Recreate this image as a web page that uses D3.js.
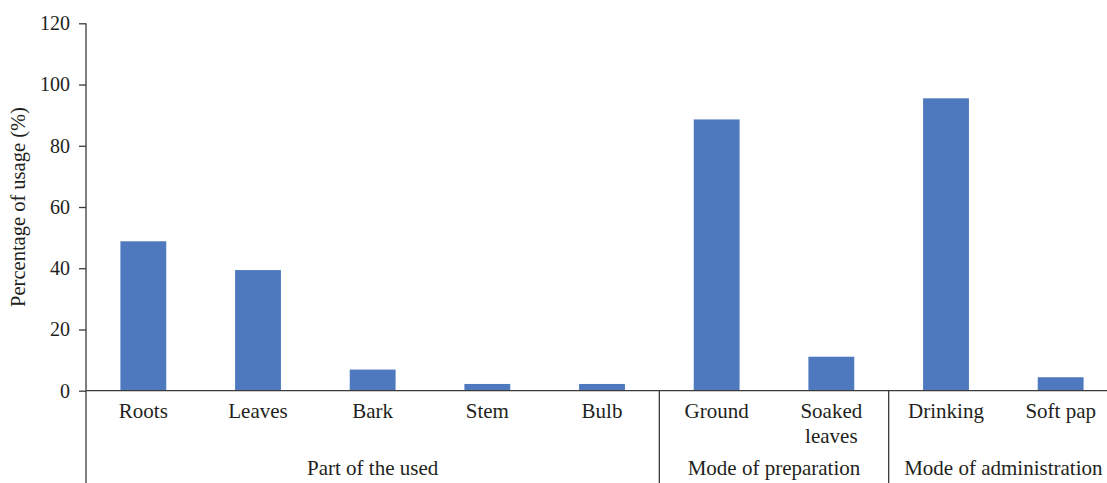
<!DOCTYPE html>
<html>
<head>
<meta charset="utf-8">
<script src="https://cdn.jsdelivr.net/npm/d3@7"></script>
<style>
  body { margin: 0; background: #fff; }
  text { font-family: "Liberation Serif", "DejaVu Serif", serif; fill: #231f20; }
</style>
</head>
<body>
<svg width="1107" height="483"></svg>
<script>
// Data
const categories = ['Roots', 'Leaves', 'Bark', 'Stem', 'Bulb', 'Ground', 'Soaked leaves', 'Drinking', 'Soft pap'];
const values = [48.8, 39.4, 6.9, 2.2, 2.2, 88.6, 11.1, 95.5, 4.4];
const groups = ['Part of the used', 'Mode of preparation', 'Mode of administration'];
const groupSizes = [5, 2, 2];
const yTicks = [0, 20, 40, 60, 80, 100, 120];

const svg = d3.select('svg');
const plotLeft = 86, plotRight = 1118,   // axis runs past the right edge
      plotTop = 23.3, plotBase = 390.7, plotBottom = 483;
const axisColor = '#3a3a3a';

const x = d3.scaleBand()
  .domain(categories)
  .range([plotLeft, plotRight])
  .paddingInner(0.6)
  .paddingOuter(0.3);

const y = d3.scaleLinear().domain([0, 120]).range([plotBase, plotTop]);

// Bars
svg.selectAll('.bar')
  .data(values)
  .enter()
  .append('rect')
  .attr('class', 'bar')
  .attr('x', (d, i) => x(categories[i]))
  .attr('width', x.bandwidth())
  .attr('y', d => y(d))
  .attr('height', d => plotBase - y(d))
  .attr('fill', '#4e79bf');

// Y axis
const yAxis = svg.append('g')
  .attr('transform', 'translate(' + plotLeft + ',0)')
  .call(d3.axisLeft(y).tickValues(yTicks).tickSize(7).tickPadding(9).tickSizeOuter(0));
yAxis.select('.domain').remove();
yAxis.selectAll('line').attr('stroke', axisColor).attr('stroke-width', 1.3);
yAxis.selectAll('text').style('font-size', '20px').attr('fill', '#231f20');

// vertical axis line runs down through the label area
svg.append('line')
  .attr('x1', plotLeft).attr('x2', plotLeft)
  .attr('y1', plotTop).attr('y2', plotBottom)
  .attr('stroke', axisColor).attr('stroke-width', 1.3);

// baseline
svg.append('line')
  .attr('x1', plotLeft).attr('x2', plotRight)
  .attr('y1', plotBase).attr('y2', plotBase)
  .attr('stroke', axisColor).attr('stroke-width', 1.3);

// Y axis title
svg.append('text')
  .attr('transform', 'translate(25,' + ((plotTop + plotBase) / 2) + ') rotate(-90)')
  .attr('text-anchor', 'middle')
  .style('font-size', '20.5px')
  .text('Percentage of usage (%)');

// Category labels (wrap the two-word label that needs it)
svg.selectAll('.cat')
  .data(categories)
  .enter()
  .append('text')
  .attr('class', 'cat')
  .attr('text-anchor', 'middle')
  .style('font-size', '21px')
  .each(function(d) {
    const lines = d === 'Soaked leaves' ? d.split(' ') : [d];
    const cx = x(d) + x.bandwidth() / 2;
    lines.forEach((l, k) => {
      d3.select(this).append('tspan')
        .attr('x', cx)
        .attr('y', 418 + k * 25)
        .text(l);
    });
  });

// Group separators and group labels
let start = 0;
groups.forEach((g, i) => {
  const end = start + groupSizes[i];
  const x0 = x(categories[start]) - x.step() * x.paddingInner() / 2;
  const x1 = end < categories.length
    ? x(categories[end]) - x.step() * x.paddingInner() / 2
    : plotRight;
  if (i > 0) {
    svg.append('line')
      .attr('x1', x0).attr('x2', x0)
      .attr('y1', plotBase).attr('y2', plotBottom)
      .attr('stroke', axisColor).attr('stroke-width', 1.3);
  }
  svg.append('text')
    .attr('x', (Math.max(x0, plotLeft) + x1) / 2)
    .attr('y', 475)
    .attr('text-anchor', 'middle')
    .style('font-size', '21px')
    .text(g);
  start = end;
});
</script>
</body>
</html>
